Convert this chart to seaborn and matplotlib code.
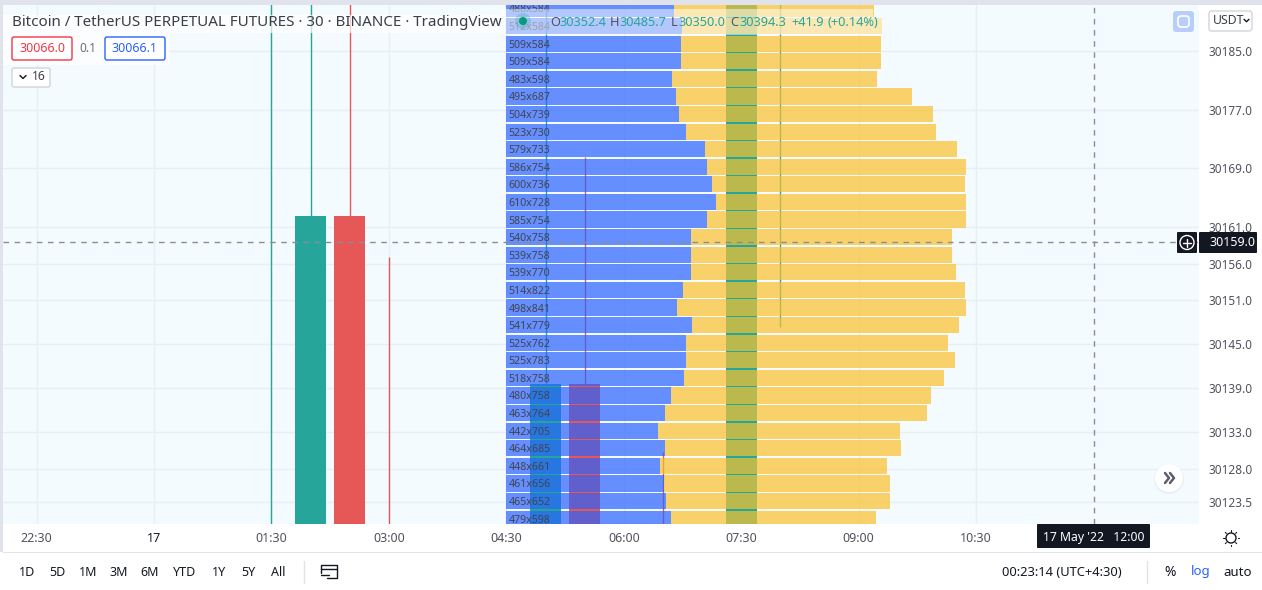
import numpy as np
import pandas as pd
import matplotlib.pyplot as plt
from matplotlib.patches import Rectangle, FancyBboxPatch, Circle
import seaborn as sns

# perfil de volumen, de arriba hacia abajo
row_price = [30190.8, 30188.4, 30186.0, 30183.6, 30181.2, 30178.8, 30176.4, 30174.0, 30171.6, 30169.2,
             30166.8, 30164.4, 30162.0, 30159.6, 30157.2, 30154.8, 30152.4, 30150.0, 30147.6, 30145.2,
             30142.8, 30140.4, 30138.0, 30135.6, 30133.2, 30130.8, 30128.4, 30126.0, 30123.6, 30121.2]
buy_vol = [488, 512, 509, 509, 483, 495, 504, 523, 579, 586, 600, 610, 585, 540, 539,
           539, 514, 498, 541, 525, 525, 518, 480, 463, 442, 464, 448, 461, 465, 479]
sell_vol = [584, 584, 584, 584, 598, 687, 739, 730, 733, 754, 736, 728, 754, 758, 758,
            770, 822, 841, 779, 762, 783, 758, 758, 764, 705, 685, 661, 656, 652, 598]

# velas (horas desde el 17 a las 00:00)
candle_time = [1.5, 2.0, 2.5, 3.0, 5.0, 5.5, 6.5, 7.5, 8.0]
candle_open = [30100.0, 30100.0, 30162.5, 30110.0, 30100.0, 30139.6, 30110.0, 30100.0, 30195.0]
candle_close = [30110.0, 30162.5, 30100.0, 30100.0, 30139.6, 30100.0, 30100.0, 30300.0, 30210.0]
candle_high = [30300.0, 30300.0, 30300.0, 30156.9, 30300.0, 30170.5, 30130.3, 30300.0, 30300.0]
candle_low = [30050.0, 30090.0, 30090.0, 30050.0, 30090.0, 30090.0, 30050.0, 30090.0, 30147.3]

price_ticks = [30185.0, 30177.0, 30169.0, 30161.0, 30156.0, 30151.0, 30145.0, 30139.0, 30133.0, 30128.0, 30123.5]
time_ticks = [-1.5, 0, 1.5, 3, 4.5, 6, 7.5, 9, 10.5]
time_labels = ['22:30', '17', '01:30', '03:00', '04:30', '06:00', '07:30', '09:00', '10:30']
range_labels = ['1D', '5D', '1M', '3M', '6M', 'YTD', '1Y', '5Y', 'All']

TEAL = '#26a69a'
RED = '#e65858'
BLUE = '#2962ff'
YELLOW = '#fbc02d'
DARK = '#131722'

sns.set_theme(style='white')
plt.rcParams['font.family'] = ['Noto Sans', 'DejaVu Sans']

W, H = 1262, 590
fig = plt.figure(figsize=(W / 100, H / 100), dpi=100, facecolor='white')
L, R, T, B = 3, 1199, 5, 524
ax = fig.add_axes([L / W, 1 - B / H, (R - L) / W, (B - T) / H], facecolor='#f3fbfe')

xlim = ((L - 154) / 78.3, (R - 154) / 78.3)
ylim = (30185 - (B - 51) / 7.33, 30185 + (51 - T) / 7.33)

for t, o, c, h, l in zip(candle_time, candle_open, candle_close, candle_high, candle_low):
    col = TEAL if c >= o else RED
    ax.vlines(t, l, h, color=col, lw=1, zorder=2)
    ax.bar(t, abs(c - o), bottom=min(o, c), width=0.396, color=col, zorder=3, linewidth=0)

ax.set_xlim(xlim)
ax.set_ylim(ylim)
ax.set_xticks(time_ticks)
ax.set_xticklabels(time_labels, fontsize=9, color='#50535e')
ax.get_xticklabels()[1].set_fontweight('bold')
ax.get_xticklabels()[1].set_color(DARK)
ax.yaxis.tick_right()
ax.set_yticks(price_ticks)
ax.set_yticklabels([f'{p:.1f}' for p in price_ticks], fontsize=8.5, color='#50535e', ha='left')
ax.tick_params(axis='x', length=0, pad=6)
ax.tick_params(axis='y', length=0, pad=7)
ax.grid(True, color='#e8eff3', lw=1)
ax.set_axisbelow(True)
sns.despine(ax=ax, left=True, right=True, top=True, bottom=True)
ax.axvline(12, color='#8a8d96', lw=1, ls=(0, (4, 4)), zorder=6)

# el perfil va en un eje x propio que arranca en las 04:30
px_per_vol = 0.3435
vol = ax.twiny()
df = pd.DataFrame({'price': row_price, 'buy': buy_vol, 'sell': sell_vol}).sort_values('price')
sns.barplot(data=df, x='buy', y='price', orient='y', native_scale=True, width=0.92,
            color=BLUE, saturation=1, alpha=0.7, linewidth=0, ax=vol)
sns.barplot(data=df, x='sell', y='price', orient='y', native_scale=True, width=0.92,
            color=YELLOW, saturation=1, alpha=0.7, linewidth=0, left=df['buy'].values, ax=vol)
vol.set_xlim((L - 506) / px_per_vol, (R - 506) / px_per_vol)
vol.set_ylim(ylim)
vol.set_xlabel('')
vol.set_ylabel('')
vol.xaxis.set_visible(False)
vol.grid(False)
vol.patch.set_visible(False)
for s in vol.spines.values():
    s.set_visible(False)
for p, b, s in zip(row_price, buy_vol, sell_vol):
    vol.text(2.5 / px_per_vol, p - 0.2, f'{b}x{s}', fontsize=7.6, color='#43434d', va='center', ha='left', clip_on=True)
vol.axhline(30159.0, color='#8a8d96', lw=1, ls=(0, (4, 4)), zorder=6)

# capa de interfaz en pixeles
ui = fig.add_axes([0, 0, 1, 1], facecolor='none')
ui.set_xlim(0, W)
ui.set_ylim(H, 0)
ui.axis('off')


def box(x0, y0, x1, y1, fc='white', ec='none', lw=1, alpha=1, r=2, z=3):
    ui.add_patch(FancyBboxPatch((x0 + r, y0 + r), x1 - x0 - 2 * r, y1 - y0 - 2 * r,
                                boxstyle=f'round,pad={r},rounding_size={r}', fc=fc, ec=ec, lw=lw,
                                alpha=alpha, zorder=z))


def label(x, y, s, size=9, color=DARK, ha='left', **kw):
    ui.text(x, y, s, fontsize=size, color=color, ha=ha, va='center', zorder=6, **kw)


def chevron(x, y, size=3, color=DARK, lw=1.0):
    ui.plot([x - size, x, x + size], [y - size / 2, y + size / 2, y - size / 2], color=color, lw=lw, zorder=6)


# marco
ui.add_patch(Rectangle((0, 0), W, 5, fc='#e0e3eb', ec='none'))
ui.add_patch(Rectangle((0, 0), 3, 552, fc='#e0e3eb', ec='none'))
ui.add_patch(Rectangle((3, 552), W, 1, fc='#e0e3eb', ec='none'))

# leyenda
ui.add_patch(Rectangle((3, 15), 497, 18, fc='white', ec='none', alpha=0.7, zorder=2))
ui.add_patch(Rectangle((3, 33), 167, 32, fc='white', ec='none', alpha=0.7, zorder=2))
label(12, 22, 'Bitcoin / TetherUS PERPETUAL FUTURES · 30 · BINANCE · TradingView', size=10.9, color='#3b3e47')
ui.add_patch(Rectangle((500, 9), 373, 9, fc='white', ec='none', alpha=0.5, zorder=2))
ui.add_patch(Rectangle((500, 18), 382, 17, fc='white', ec='none', alpha=0.5, zorder=2))
ui.add_patch(Circle((523, 21), 8, fc=TEAL, ec='none', alpha=0.25, zorder=3))
ui.add_patch(Circle((523, 21), 4, fc='#089981', ec='none', zorder=4))
for x, s, col in [(550, 'O', '#50535e'), (559, '30352.4', TEAL), (610, 'H', '#50535e'), (619, '30485.7', TEAL),
                  (671, 'L', '#50535e'), (678, '30350.0', TEAL), (730, 'C', '#50535e'), (739, '30394.3', TEAL),
                  (791, '+41.9', TEAL), (827, '(+0.14%)', TEAL)]:
    label(x, 22, s, size=9.2, color=col)

box(12, 37, 72, 60, ec='#f23645')
label(42, 49, '30066.0', color='#f23645', ha='center')
label(88, 49, '0.1', color='#6a6d78', ha='center', size=8.5)
box(105, 37, 165, 60, ec=BLUE)
label(135, 49, '30066.1', color=BLUE, ha='center')
box(12, 68, 50, 87, ec='#d1d4dc')
chevron(23, 77)
label(32, 77, '16', size=8.8, color='#3b3e47')

# botones de la derecha
box(1173, 11, 1194, 32, fc='#b9cdfd', r=3)
box(1178, 16, 1189, 27, ec='white', fc='none', lw=1.2, r=3, z=4)
box(1209, 11, 1252, 31, ec='#d1d4dc', r=3)
label(1213, 21, 'USDT', size=8.8, color='#3b3e47')
chevron(1246.5, 20.5, size=2.5)

# etiquetas de la cruz
box(1177, 232, 1197, 253, fc=DARK, r=1)
ui.add_patch(Circle((1187, 242.5), 7, fc='none', ec='white', lw=1, zorder=5))
ui.plot([1183, 1191], [242.5, 242.5], color='white', lw=1, zorder=6)
ui.plot([1187, 1187], [238.5, 246.5], color='white', lw=1, zorder=6)
box(1199, 232, 1257, 253, fc=DARK, r=1)
label(1209, 242, '30159.0', size=9, color='white', fontweight='bold')
box(1037, 524, 1150, 548, fc=DARK, r=1)
label(1094, 538, "17 May '22   12:00", size=8.8, color='white', ha='center', fontweight='bold')

# boton de ir al final y sol
ui.add_patch(Circle((1169, 479), 15, fc='#dde2e8', ec='none', alpha=0.45, zorder=3))
ui.add_patch(Circle((1169, 478), 14, fc='white', ec='none', zorder=4))
for dx in (-4, 1):
    ui.plot([1169 + dx, 1169 + dx + 4, 1169 + dx], [473, 478, 483], color='#5d606b', lw=1.8, zorder=5)
ui.add_patch(Circle((1231, 538), 5, fc='none', ec=DARK, lw=1, zorder=5))
for a in np.deg2rad(np.arange(0, 360, 45)):
    ui.plot([1231 + 6.5 * np.cos(a), 1231 + 8 * np.cos(a)], [538 + 6.5 * np.sin(a), 538 + 8 * np.sin(a)],
            color=DARK, lw=0.8, zorder=5)

# barra inferior
for x, s in zip([27, 57, 88, 119, 150, 185, 219, 248, 278], range_labels):
    label(x, 572, s, size=9, color=DARK, ha='center')
ui.plot([303.5, 303.5], [561, 583], color='#e0e3eb', lw=1)
ui.plot([321, 321, 337, 337, 327], [573, 565, 565, 578, 578], color=DARK, lw=1)
ui.plot([321, 337], [569, 569], color=DARK, lw=1)
ui.plot([321, 329], [575, 575], color=DARK, lw=1)
label(1002, 572, '00:23:14 (UTC+4:30)', size=9.3, color=DARK)
ui.plot([1146.5, 1146.5], [561, 583], color='#e0e3eb', lw=1)
label(1170, 572, '%', size=10, color=DARK, ha='center')
label(1201, 572, 'log', size=9.5, color=BLUE, ha='center')
label(1238, 572, 'auto', size=9.5, color=DARK, ha='center')

fig.savefig('out.png', dpi=100)
